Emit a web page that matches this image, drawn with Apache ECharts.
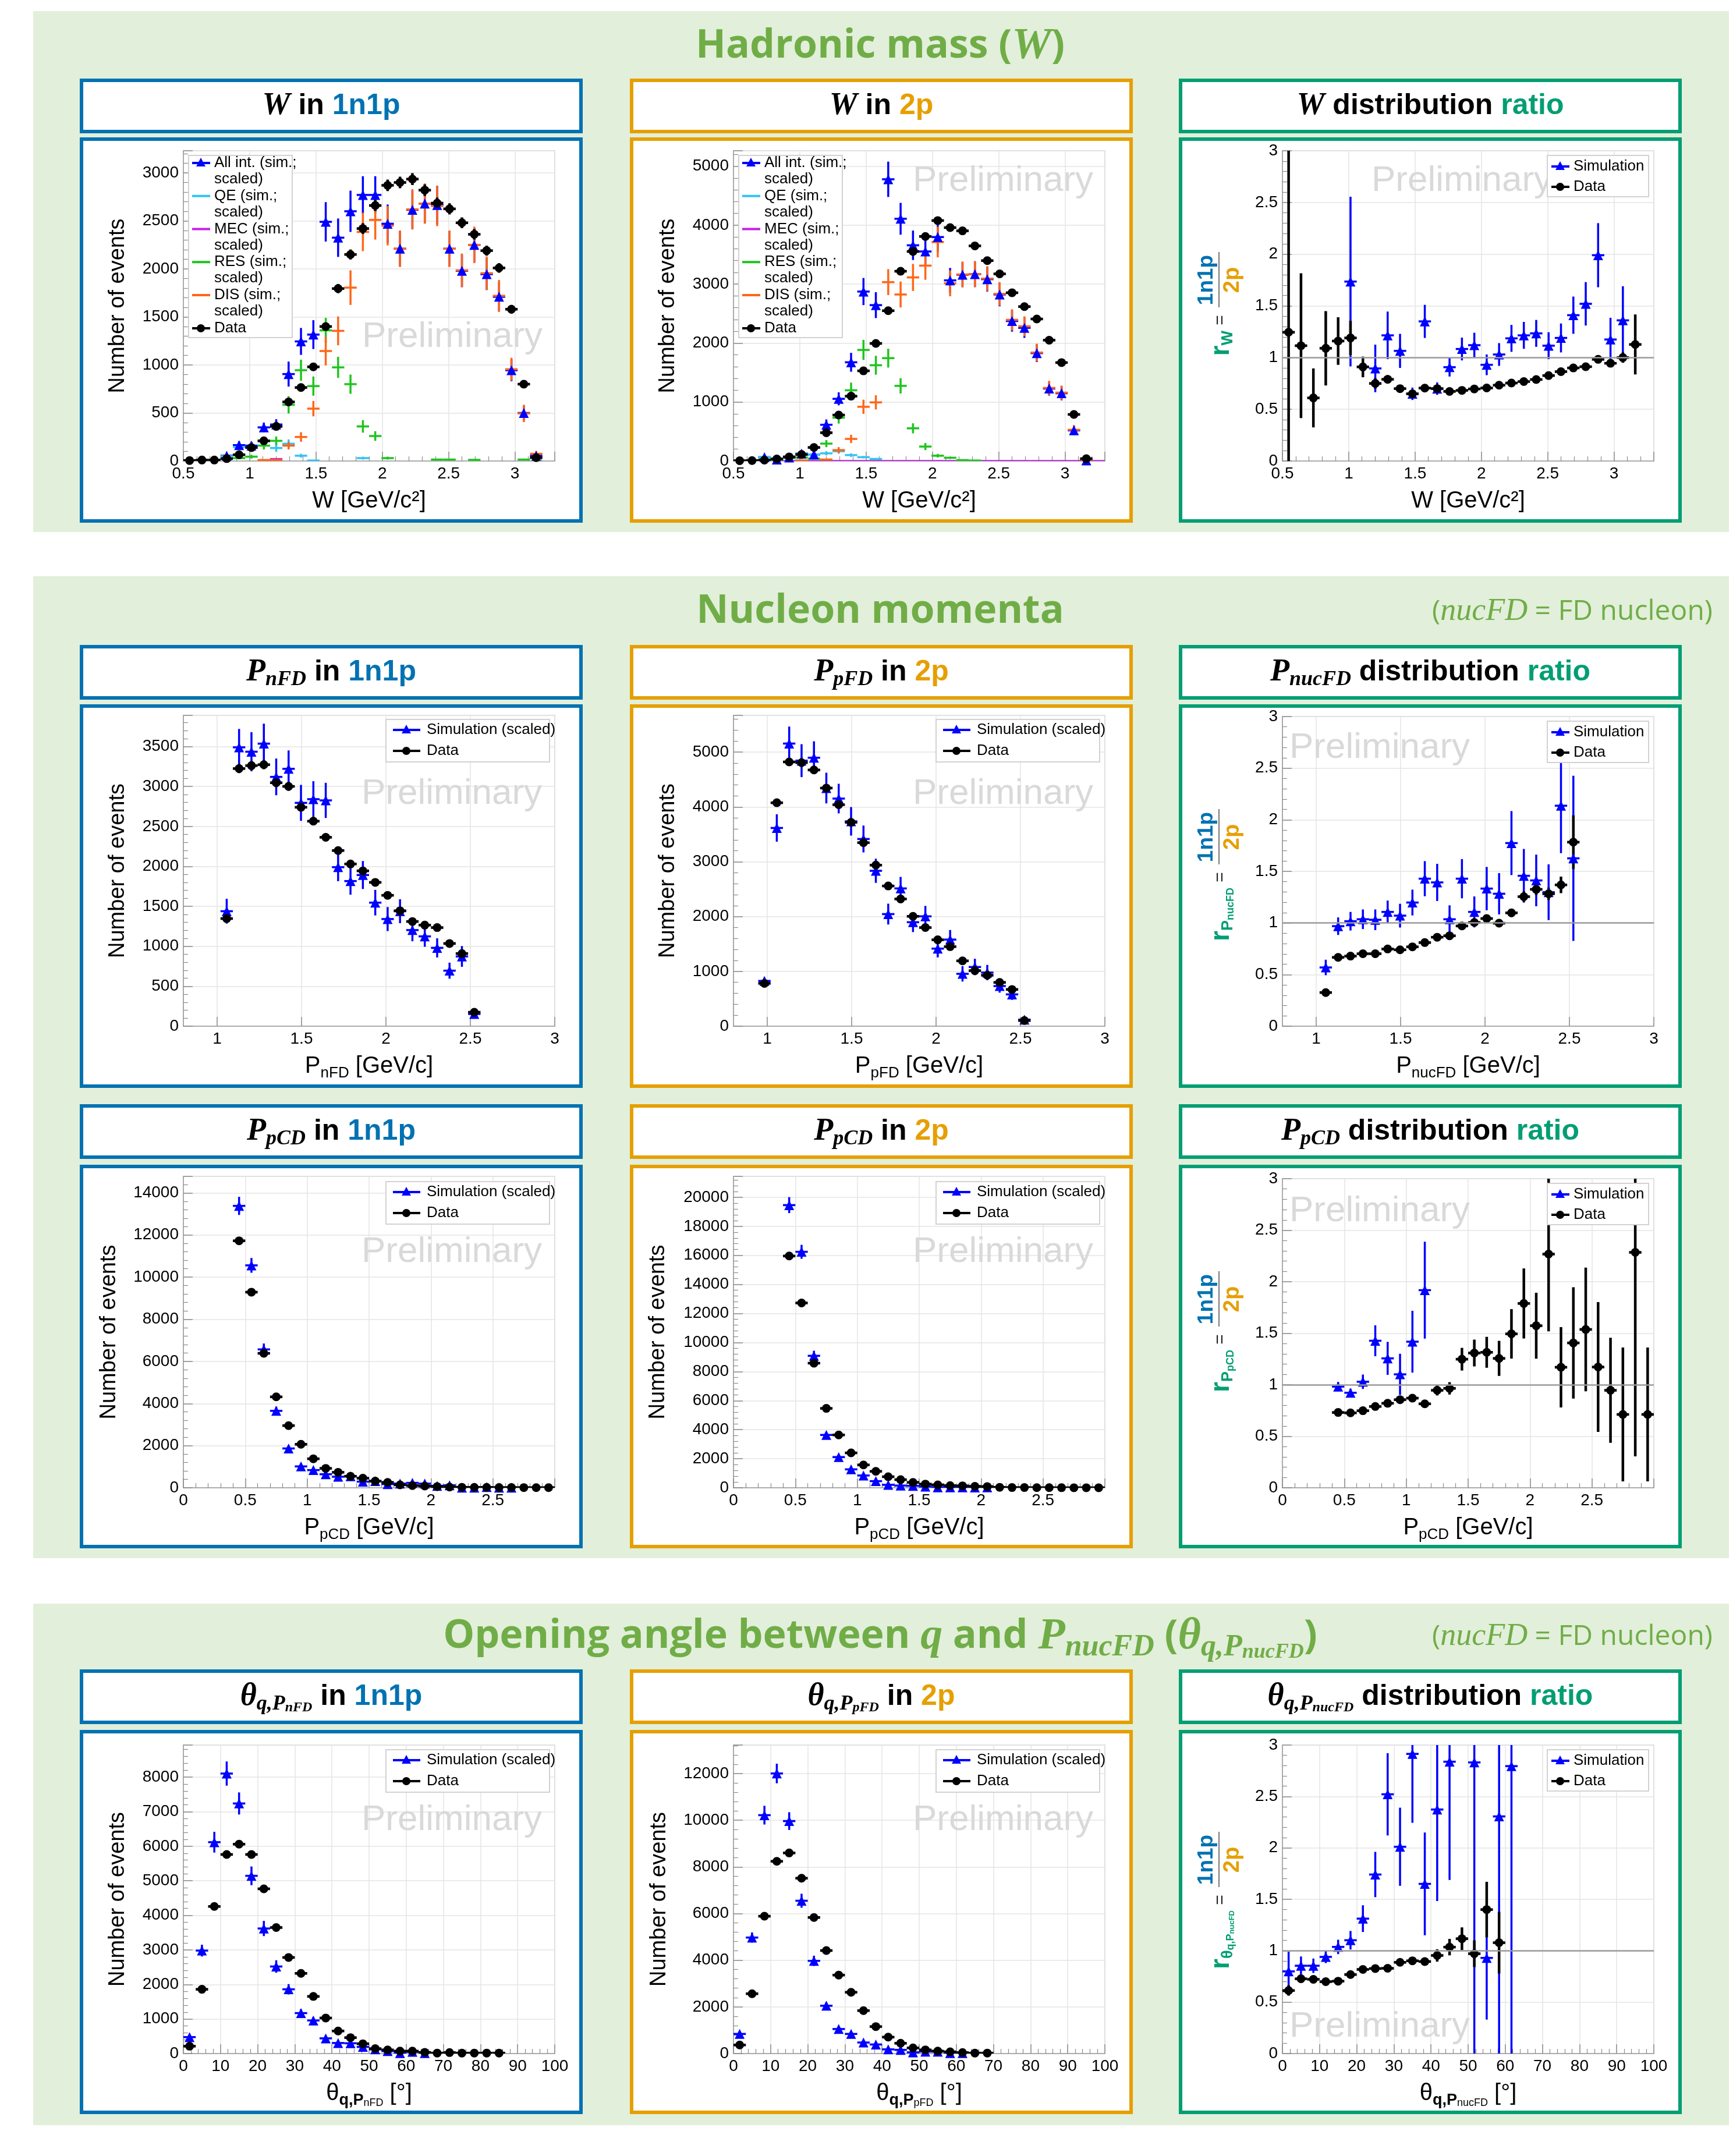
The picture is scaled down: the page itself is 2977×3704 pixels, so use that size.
<!DOCTYPE html>
<html><head><meta charset="utf-8">
<script src="https://cdn.jsdelivr.net/npm/echarts@6/dist/echarts.min.js"></script>
<style>html,body{margin:0;padding:0;background:#fff}#c{width:2977px;height:3704px}</style>
</head><body><div id="c"></div>
<script>
const _ = null;
// ---------- binning (axis categories) ----------
function makeBins(lo, hi, n){ const w=(hi-lo)/n, c=[]; for(let i=0;i<n;i++) c.push(lo+(i+0.5)*w); return {w, c}; }
const W_BINS = makeBins(0.5, 3.3, 30);
const PFD_BINS = makeBins(0.8, 3.0, 30);
const PCD_BINS = makeBins(0.0, 3.0, 30);
const TH_BINS = makeBins(0, 100, 30);

// ---------- W in 1n1p ----------
const W_1n1p_sim     = [_,_,_,55,165,160,350,380,905,1245,1316,2490,2325,2600,2770,2770,2470,2210,2615,2680,2665,2210,1980,2250,1945,1710,945,500,55,_];
const W_1n1p_sim_err = [_,_,_,20,40,40,50,55,130,140,150,205,200,215,195,195,200,185,200,200,200,185,170,180,165,155,115,80,25,_];
const W_1n1p_QE      = [_,_,_,50,145,140,205,135,180,55,5,_,_,_,30,_,_,_,_,_,_,_,_,_,_,_,_,_,_,_];
const W_1n1p_QE_err  = [_,_,_,20,40,40,45,40,45,20,5,_,_,_,15,_,_,_,_,_,_,_,_,_,_,_,_,_,_,_];
const W_1n1p_MEC     = [_,_,_,_,_,_,5,20,_,_,_,_,_,_,_,_,_,_,_,_,_,_,_,_,_,_,_,_,_,_];
const W_1n1p_MEC_err = [_,_,_,_,_,_,4,10,_,_,_,_,_,_,_,_,_,_,_,_,_,_,_,_,_,_,_,_,_,_];
const W_1n1p_RES     = [_,_,_,25,30,45,160,210,585,945,780,1360,975,800,360,260,30,_,_,_,15,15,_,12,_,_,_,15,_,_];
const W_1n1p_RES_err = [_,_,_,10,12,20,40,45,90,110,100,130,110,100,65,50,15,_,_,_,8,8,_,8,_,_,_,8,_,_];
const W_1n1p_DIS     = [_,_,_,_,_,_,10,10,160,250,545,1145,1355,1805,2385,2510,2450,2210,2620,2680,2655,2210,1985,2250,1955,1720,955,495,75,_];
const W_1n1p_DIS_err = [_,_,_,_,_,_,5,5,40,50,80,150,150,180,200,205,205,190,210,210,210,190,175,190,175,165,120,90,30,_];
const W_1n1p_data     = [5,10,10,25,65,140,210,360,615,765,980,1400,1795,2150,2420,2660,2870,2900,2935,2820,2685,2625,2480,2360,2190,2010,1580,800,35,_];
const W_1n1p_data_err = [3,4,4,6,10,14,18,22,28,32,36,42,48,52,56,58,60,60,62,60,58,58,56,55,52,50,45,32,8,_];

// ---------- W in 2p ----------
const W_2p_sim     = [_,_,65,25,60,125,110,615,1055,1675,2875,2645,4780,4110,3660,3555,3800,3065,3160,3170,3085,2825,2375,2260,1830,1230,1150,520,10,_];
const W_2p_sim_err = [_,_,20,15,20,30,30,90,110,160,230,220,300,270,250,240,250,210,210,220,210,200,180,170,150,120,120,80,10,_];
const W_2p_QE      = [_,_,65,40,65,125,110,130,165,100,65,35,_,_,_,_,_,_,_,_,_,_,_,_,_,_,_,_,_,_];
const W_2p_QE_err  = [_,_,20,15,20,30,30,35,40,30,20,15,_,_,_,_,_,_,_,_,_,_,_,_,_,_,_,_,_,_];
const W_2p_MEC     = [0,0,0,0,0,0,0,0,0,0,0,0,0,0,0,0,0,0,0,0,0,0,0,0,0,0,0,0,0,0];
const W_2p_MEC_err = [0,0,0,0,0,0,0,0,0,0,0,0,0,0,0,0,0,0,0,0,0,0,0,0,0,0,0,0,0,0];
const W_2p_RES     = [_,_,25,20,50,60,40,295,735,1200,1885,1625,1745,1275,555,245,90,55,15,8,_,_,_,_,_,_,_,_,_,_];
const W_2p_RES_err = [_,_,10,10,15,20,15,60,100,130,170,160,160,130,85,60,30,20,10,5,_,_,_,_,_,_,_,_,_,_];
const W_2p_DIS     = [_,_,_,_,_,10,_,25,185,375,920,995,3035,2825,3115,3315,3715,3015,3165,3170,3095,2835,2395,2285,1840,1240,1160,530,25,_];
const W_2p_DIS_err = [_,_,_,_,_,5,_,10,50,70,120,120,220,220,230,240,260,220,220,220,210,200,180,170,150,120,120,80,10,_];
const W_2p_data     = [5,8,15,35,70,110,230,480,780,1100,1530,1995,2550,3220,3555,3810,4080,3960,3905,3650,3400,3175,2855,2620,2410,2050,1670,790,40,_];
const W_2p_data_err = [3,3,4,6,9,11,16,23,29,35,40,45,52,58,62,64,66,65,64,62,60,58,55,52,50,46,42,30,7,_];

// ---------- W ratio ----------
const W_ratio_sim      = [_,_,_,_,_,1.735,_,0.895,1.215,1.065,0.65,1.35,0.70,0.907,1.083,1.12,0.93,1.03,1.186,1.215,1.234,1.115,1.19,1.41,1.52,1.99,1.175,1.36,_,_];
const W_ratio_sim_err  = [_,_,_,_,_,0.82,_,0.23,0.23,0.165,0.06,0.16,0.06,0.09,0.11,0.12,0.1,0.11,0.13,0.13,0.13,0.13,0.14,0.18,0.21,0.31,0.21,0.33,_,_];
const W_ratio_data     = [1.245,1.115,0.61,1.09,1.16,1.19,0.91,0.75,0.79,0.70,0.65,0.705,0.70,0.673,0.683,0.697,0.706,0.733,0.754,0.768,0.788,0.826,0.864,0.90,0.912,0.983,0.945,1.0,1.127,_];
const W_ratio_data_err = [1.9,0.7,0.285,0.36,0.23,0.165,0.1,0.05,0.04,0.03,0.03,0.02,0.02,0.02,0.02,0.02,0.02,0.02,0.02,0.02,0.02,0.02,0.02,0.02,0.02,0.02,0.025,0.05,0.29,_];

// ---------- P_nFD in 1n1p ----------
const PnFD_1n1p_sim      = [_,_,_,1439,3490,3435,3536,3120,3221,2795,2841,2826,1990,1816,1892,1546,1341,1439,1203,1124,980,695,873,153,_,_,_,_,_,_];
const PnFD_1n1p_sim_err  = [_,_,_,155,230,245,250,230,230,225,225,220,175,170,175,160,150,150,140,130,120,100,130,30,_,_,_,_,_,_];
const PnFD_1n1p_data     = [_,_,_,1347,3224,3261,3273,3047,3001,2740,2566,2364,2198,2030,1944,1800,1638,1445,1310,1265,1234,1035,909,175,_,_,_,_,_,_];
const PnFD_1n1p_data_err = [_,_,_,37,57,57,57,55,55,52,51,49,47,45,44,42,40,38,36,36,35,32,30,13,_,_,_,_,_,_];

// ---------- P_pFD in 2p ----------
const PpFD_2p_sim      = [_,_,826,3616,5156,4844,4897,4344,4152,3737,3415,2835,2045,2513,1897,2004,1415,1580,955,1080,978,732,580,120,_,_,_,_,_,_];
const PpFD_2p_sim_err  = [_,_,60,250,310,300,300,280,270,260,245,220,190,210,180,190,160,175,140,150,140,120,100,30,_,_,_,_,_,_];
const PpFD_2p_data     = [_,_,781,4076,4821,4808,4674,4344,4040,3719,3348,2938,2558,2321,2004,1799,1576,1451,1192,1013,929,799,670,103,_,_,_,_,_,_];
const PpFD_2p_data_err = [_,_,28,64,69,69,68,66,64,61,58,54,51,48,45,42,40,38,35,32,30,28,26,10,_,_,_,_,_,_];

// ---------- P_nucFD ratio ----------
const PnucFD_ratio_sim      = [_,_,_,0.569,0.969,1.017,1.036,1.031,1.107,1.071,1.198,1.429,1.393,1.036,1.429,1.107,1.333,1.283,1.774,1.457,1.412,1.298,2.136,1.626,_,_,_,_,_,_];
const PnucFD_ratio_sim_err  = [_,_,_,0.075,0.085,0.09,0.095,0.1,0.11,0.115,0.125,0.17,0.18,0.135,0.19,0.15,0.21,0.2,0.31,0.26,0.25,0.27,0.46,0.8,_,_,_,_,_,_];
const PnucFD_ratio_data     = [_,_,_,0.326,0.667,0.679,0.702,0.702,0.748,0.740,0.769,0.810,0.862,0.876,0.971,1.005,1.043,0.998,1.098,1.255,1.326,1.283,1.369,1.783,_,_,_,_,_,_];
const PnucFD_ratio_data_err = [_,_,_,0.02,0.02,0.02,0.02,0.02,0.022,0.022,0.024,0.025,0.027,0.028,0.03,0.032,0.035,0.035,0.04,0.05,0.055,0.06,0.08,0.26,_,_,_,_,_,_];

// ---------- P_pCD in 1n1p ----------
const PpCD_1n1p_sim      = [_,_,_,_,13384,10560,6570,3652,1867,1015,840,642,525,548,292,315,175,198,233,198,93,117,5,5,35,5,5,_,_,_];
const PpCD_1n1p_sim_err  = [_,_,_,_,430,350,280,200,100,80,60,60,50,50,40,40,30,30,30,30,20,20,5,5,15,5,5,_,_,_];
const PpCD_1n1p_data     = [_,_,_,_,11727,9288,6383,4317,2952,2065,1377,922,735,548,455,315,257,140,105,82,58,35,23,20,20,12,12,10,8,8];
const PpCD_1n1p_data_err = [_,_,_,_,110,95,80,65,55,45,37,30,27,23,21,18,16,12,10,9,8,6,5,4,4,3,3,3,3,3];

// ---------- P_pCD in 2p ----------
const PpCD_2p_sim      = [_,_,_,_,19459,16244,9086,3638,2115,1269,846,457,203,152,135,85,34,34,34,17,34,_,_,_,_,_,_,_,_,_];
const PpCD_2p_sim_err  = [_,_,_,_,550,480,350,150,100,80,60,50,35,30,30,20,15,15,15,10,15,_,_,_,_,_,_,_,_,_];
const PpCD_2p_data     = [_,_,_,_,15956,12724,8579,5465,3638,2403,1574,1134,761,558,372,254,203,152,135,102,85,34,17,17,10,8,6,5,5,4];
const PpCD_2p_data_err = [_,_,_,_,126,113,93,74,60,49,40,34,28,24,19,16,14,12,12,10,9,6,4,4,3,3,2,2,2,2];

// ---------- P_pCD ratio ----------
const PpCD_ratio_sim      = [_,_,_,_,0.982,0.922,1.029,1.427,1.256,1.101,1.418,1.918,_,_,_,_,_,_,_,_,_,_,_,_,_,_,_,_,_,_];
const PpCD_ratio_sim_err  = [_,_,_,_,0.045,0.04,0.07,0.15,0.16,0.2,0.3,0.47,_,_,_,_,_,_,_,_,_,_,_,_,_,_,_,_,_,_];
const PpCD_ratio_data     = [_,_,_,_,0.731,0.727,0.748,0.789,0.820,0.855,0.870,0.815,0.946,0.965,1.248,1.308,1.315,1.256,1.494,1.789,1.573,2.268,1.170,1.406,1.537,1.172,0.946,0.712,2.285,0.712];
const PpCD_ratio_data_err = [_,_,_,_,0.02,0.02,0.025,0.025,0.025,0.03,0.03,0.035,0.05,0.06,0.11,0.13,0.15,0.17,0.24,0.34,0.32,0.75,0.39,0.54,0.6,0.63,0.51,0.65,1.98,0.65];

// ---------- theta_q,PnFD in 1n1p ----------
const TnFD_1n1p_sim      = [476,2981,6118,8105,7239,5145,3620,2520,1860,1171,958,440,305,298,192,121,71,14,50,14,_,_,_,_,_,_,_,_,_,_];
const TnFD_1n1p_sim_err  = [40,170,300,350,320,270,220,180,150,110,100,50,40,40,30,25,20,8,15,8,_,_,_,_,_,_,_,_,_,_];
const TnFD_1n1p_data     = [213,1860,4258,5763,6061,5763,4769,3648,2782,2321,1654,1029,653,461,284,142,106,71,71,35,14,28,14,14,14,14,_,_,_,_];
const TnFD_1n1p_data_err = [15,43,65,76,78,76,69,60,53,48,41,32,26,21,17,12,10,8,8,6,4,5,4,4,4,4,_,_,_,_];

// ---------- theta_q,PpFD in 2p ----------
const TpFD_2p_sim      = [841,4971,10216,12002,9962,6548,3973,2049,1051,841,473,389,179,158,53,84,84,21,21,_,_,_,_,_,_,_,_,_,_,_];
const TpFD_2p_sim_err  = [70,220,400,420,380,300,220,150,100,80,60,50,40,35,20,20,20,10,10,_,_,_,_,_,_,_,_,_,_,_];
const TpFD_2p_data     = [368,2564,5885,8239,8597,7514,5832,4414,3363,2627,1839,1156,704,441,242,158,105,74,42,21,21,_,_,_,_,_,_,_,_,_];
const TpFD_2p_data_err = [19,51,77,91,93,87,76,66,58,51,43,34,27,21,16,13,10,9,6,5,5,_,_,_,_,_,_,_,_,_];

// ---------- theta ratio ----------
const TnucFD_ratio_sim      = [0.799,0.854,0.854,0.940,1.037,1.102,1.312,1.741,2.521,2.011,2.914,1.650,2.373,2.838,_,2.831,0.930,2.306,2.795,_,_,_,_,_,_,_,_,_,_,_];
const TnucFD_ratio_sim_err  = [0.19,0.09,0.07,0.06,0.07,0.09,0.13,0.22,0.4,0.38,0.67,0.5,0.89,1.15,_,2.9,0.6,2.5,2.9,_,_,_,_,_,_,_,_,_,_,_];
const TnucFD_ratio_data     = [0.613,0.727,0.722,0.699,0.704,0.768,0.818,0.827,0.829,0.887,0.902,0.895,0.954,1.035,1.117,0.971,1.400,1.078,_,_,_,_,_,_,_,_,_,_,_,_];
const TnucFD_ratio_data_err = [0.05,0.02,0.02,0.02,0.02,0.02,0.02,0.02,0.025,0.03,0.03,0.04,0.06,0.08,0.11,0.13,0.27,0.3,_,_,_,_,_,_,_,_,_,_,_,_];

// ---------- layout & styles ----------
const C_BLUE='#0072B2', C_ORANGE='#E69F00', C_GREEN='#009E73', C_SEC='#70AD47', C_SECBG='#E2EFDA';
const BORDER=[C_BLUE,C_ORANGE,C_GREEN];
const COLS=[137,1082,2025], ROWS=[236,1210,2001,2972], PH=[662,659,659,660], HEAD_Y=[135,1108,1897,2868], PW=864;
const AXF='"Liberation Sans Narrow","Liberation Sans",Arial,sans-serif';
const TF='"Liberation Sans",Arial,sans-serif';
const OS='"Open Sans","Liberation Sans",Arial,sans-serif';
const SERIF='"Liberation Serif","DejaVu Serif",serif';
const STY={
  sim:{color:'#0000ff',lw:3.5,marker:'triangle',size:17},
  qe:{color:'#33c3f5',lw:3.5}, mec:{color:'#c41fe8',lw:3.5}, res:{color:'#1fc41f',lw:3.5}, dis:{color:'#ff6619',lw:3.5},
  data:{color:'#000000',lw:4.5,marker:'circle',size:15}
};
const XNAMES={
  w:'{n|W [GeV/c²]}',
  pnfd:'{n|P}{s|nFD}{n| [GeV/c]}', ppfd:'{n|P}{s|pFD}{n| [GeV/c]}', pnuc:'{n|P}{s|nucFD}{n| [GeV/c]}', pcd:'{n|P}{s|pCD}{n| [GeV/c]}',
  tn:'{n|θ}{sb|q,P}{ss|nFD}{n| [°]}', tp:'{n|θ}{sb|q,P}{ss|pFD}{n| [°]}', tnuc:'{n|θ}{sb|q,P}{ss|nucFD}{n| [°]}'
};
const XN_RICH={
  n:{fontFamily:TF,fontSize:40,color:'#000',lineHeight:50},
  s:{fontFamily:TF,fontSize:26,color:'#000',lineHeight:26,verticalAlign:'bottom'},
  sb:{fontFamily:TF,fontSize:27,fontWeight:'bold',color:'#000',lineHeight:27,verticalAlign:'bottom'},
  ss:{fontFamily:TF,fontSize:18,color:'#000',lineHeight:18,verticalAlign:'bottom'}
};

const SPEC=[
 {r:0,c:0,bins:W_BINS,xr:[0.5,3.3,0.5],yr:[3230,500],top:23,bot:556,xn:'w',yg:93,leg:'W',legTop:31,pre:[777,579],
  ser:[[W_1n1p_sim,W_1n1p_sim_err,'sim'],[W_1n1p_QE,W_1n1p_QE_err,'qe'],[W_1n1p_MEC,W_1n1p_MEC_err,'mec'],[W_1n1p_RES,W_1n1p_RES_err,'res'],[W_1n1p_DIS,W_1n1p_DIS_err,'dis'],[W_1n1p_data,W_1n1p_data_err,'data']]},
 {r:0,c:1,bins:W_BINS,xr:[0.5,3.3,0.5],yr:[5264,1000],top:23,bot:556,xn:'w',yg:93,leg:'W',legTop:31,pre:[1723,311],
  ser:[[W_2p_sim,W_2p_sim_err,'sim'],[W_2p_QE,W_2p_QE_err,'qe'],[W_2p_MEC,W_2p_MEC_err,'mec'],[W_2p_RES,W_2p_RES_err,'res'],[W_2p_DIS,W_2p_DIS_err,'dis'],[W_2p_data,W_2p_data_err,'data']]},
 {r:0,c:2,bins:W_BINS,xr:[0.5,3.3,0.5],yr:[3,0.5],top:23,bot:556,xn:'w',ratio:'{r|r}{s|W}',rt:[69,292],leg:'R',legTop:31,pre:[2511,311],
  ser:[[W_ratio_sim,W_ratio_sim_err,'sim'],[W_ratio_data,W_ratio_data_err,'data']]},
 {r:1,c:0,bins:PFD_BINS,xr:[0.8,3.0,0.5],custom:[1,1.5,2,2.5,3],yr:[3890,500],top:19,bot:553,xn:'pnfd',yg:93,leg:'C',legTop:26,pre:[776,1364],
  ser:[[PnFD_1n1p_sim,PnFD_1n1p_sim_err,'sim'],[PnFD_1n1p_data,PnFD_1n1p_data_err,'data']]},
 {r:1,c:1,bins:PFD_BINS,xr:[0.8,3.0,0.5],custom:[1,1.5,2,2.5,3],yr:[5670,1000],top:19,bot:553,xn:'ppfd',yg:93,leg:'C',legTop:26,pre:[1723,1364],
  ser:[[PpFD_2p_sim,PpFD_2p_sim_err,'sim'],[PpFD_2p_data,PpFD_2p_data_err,'data']]},
 {r:1,c:2,bins:PFD_BINS,xr:[0.8,3.0,0.5],custom:[1,1.5,2,2.5,3],yr:[3,0.5],top:21,bot:553,xn:'pnuc',ratio:'{r|r}{s|P}{ss|nucFD}',rt:[69,275],leg:'R',legTop:29,pre:[2370,1285],
  ser:[[PnucFD_ratio_sim,PnucFD_ratio_sim_err,'sim'],[PnucFD_ratio_data,PnucFD_ratio_data_err,'data']]},
 {r:2,c:0,bins:PCD_BINS,xr:[0,3,0.5],xhide:[3],yr:[14785,2000],top:20,bot:555,xn:'pcd',yg:108,leg:'C',legTop:29,pre:[776,2151],
  ser:[[PpCD_1n1p_sim,PpCD_1n1p_sim_err,'sim'],[PpCD_1n1p_data,PpCD_1n1p_data_err,'data']]},
 {r:2,c:1,bins:PCD_BINS,xr:[0,3,0.5],xhide:[3],yr:[21438,2000],top:20,bot:555,xn:'pcd',yg:110,leg:'C',legTop:29,pre:[1723,2151],
  ser:[[PpCD_2p_sim,PpCD_2p_sim_err,'sim'],[PpCD_2p_data,PpCD_2p_data_err,'data']]},
 {r:2,c:2,bins:PCD_BINS,xr:[0,3,0.5],xhide:[3],yr:[3,0.5],top:24,bot:555,xn:'pcd',ratio:'{r|r}{s|P}{ss|pCD}',rt:[69,278],leg:'R',legTop:32,pre:[2370,2081],
  ser:[[PpCD_ratio_sim,PpCD_ratio_sim_err,'sim'],[PpCD_ratio_data,PpCD_ratio_data_err,'data']]},
 {r:3,c:0,bins:TH_BINS,xr:[0,100,10],yr:[8930,1000],top:26,bot:556,xn:'tn',yg:93,leg:'C',legTop:34,pre:[776,3127],
  ser:[[TnFD_1n1p_sim,TnFD_1n1p_sim_err,'sim'],[TnFD_1n1p_data,TnFD_1n1p_data_err,'data']]},
 {r:3,c:1,bins:TH_BINS,xr:[0,100,10],yr:[13220,2000],top:26,bot:556,xn:'tp',yg:108,leg:'C',legTop:34,pre:[1723,3127],
  ser:[[TpFD_2p_sim,TpFD_2p_sim_err,'sim'],[TpFD_2p_data,TpFD_2p_data_err,'data']]},
 {r:3,c:2,bins:TH_BINS,xr:[0,100,10],yr:[3,0.5],top:26,bot:556,xn:'tnuc',ratio:'{r|r}{s|θ}{ss|q,P}{sss|nucFD}',rt:[69,270],leg:'R',legTop:34,pre:[2370,3482],
  ser:[[TnucFD_ratio_sim,TnucFD_ratio_sim_err,'sim'],[TnucFD_ratio_data,TnucFD_ratio_data_err,'data']]}
];

function isMajor(v,step){const q=v/step;return Math.abs(q-Math.round(q))<1e-6;}
function fmtNum(v){return String(parseFloat(v.toFixed(4)));}

const grids=[],xAxes=[],yAxes=[],series=[],G=[];

function crossSeries(gi,bins,vals,errs,st){
  const data=[];
  for(let i=0;i<vals.length;i++){ if(vals[i]!==null) data.push([bins.c[i],vals[i],errs[i]==null?0:errs[i]]); }
  const hw=bins.w/2;
  return {type:'custom',xAxisIndex:gi,yAxisIndex:gi,clip:true,silent:true,data,
    renderItem:(params,api)=>{
      const x=api.value(0),y=api.value(1),e=api.value(2);
      const a=api.coord([x-hw,y]),b=api.coord([x+hw,y]);
      const ch=[{type:'line',shape:{x1:a[0],y1:a[1],x2:b[0],y2:b[1]},style:{stroke:st.color,lineWidth:st.lw}}];
      if(e>0){const t=api.coord([x,y+e]),u=api.coord([x,y-e]);
        ch.push({type:'line',shape:{x1:t[0],y1:t[1],x2:u[0],y2:u[1]},style:{stroke:st.color,lineWidth:st.lw}});}
      return {type:'group',children:ch};
    }};
}

SPEC.forEach((s,gi)=>{
  const px=COLS[s.c],py=ROWS[s.r];
  grids.push({left:px+178,top:py+s.top,width:638,height:s.bot-s.top,show:true,borderColor:'#c8c8c8',borderWidth:1.5,backgroundColor:'transparent',containLabel:false,outerBoundsMode:'none'});
  const xa={gridIndex:gi,type:'value',min:s.xr[0],max:s.xr[1],
    axisLine:{show:true,onZero:false,lineStyle:{color:'#9a9a9a',width:1.5}},
    axisTick:{show:true,inside:true,length:16,lineStyle:{color:'#8c8c8c',width:1.5}},
    axisLabel:{show:true,margin:8,fontSize:28,fontFamily:AXF,color:'#000',
      formatter:v=>(isMajor(v,s.xr[2])&&!(s.xhide||[]).some(h=>Math.abs(h-v)<1e-6))?fmtNum(v):''},
    splitLine:{show:true,lineStyle:{color:'#e4e4e4',width:1.5}},
    name:XNAMES[s.xn],nameLocation:'middle',nameGap:44,nameTextStyle:{fontFamily:TF,fontSize:40,color:'#000',rich:XN_RICH}};
  if(s.custom){xa.axisTick.customValues=s.custom;xa.axisLabel.customValues=s.custom;xa.minorTick={show:false};}
  else{xa.interval=s.xr[2];xa.minorTick={show:true,splitNumber:5,length:8,lineStyle:{color:'#8c8c8c',width:1.2}};}
  xAxes.push(xa);
  const ya={gridIndex:gi,type:'value',min:0,max:s.yr[0],interval:s.yr[1],
    axisLine:{show:true,onZero:false,lineStyle:{color:'#9a9a9a',width:1.5}},
    axisTick:{show:true,inside:true,length:16,lineStyle:{color:'#8c8c8c',width:1.5}},
    minorTick:{show:true,splitNumber:5,length:8,lineStyle:{color:'#8c8c8c',width:1.2}},
    axisLabel:{show:true,margin:8,fontSize:28,fontFamily:AXF,color:'#000',formatter:v=>isMajor(v,s.yr[1])?fmtNum(v):''},
    splitLine:{show:true,lineStyle:{color:'#e4e4e4',width:1.5}}};
  if(!s.ratio){Object.assign(ya,{name:'Number of events',nameLocation:'middle',nameRotate:90,nameGap:s.yg,nameTextStyle:{fontFamily:TF,fontSize:38,color:'#000'}});}
  yAxes.push(ya);
  if(s.ratio){
    series.push({type:'line',xAxisIndex:gi,yAxisIndex:gi,data:[],silent:true,
      markLine:{silent:true,symbol:['none','none'],label:{show:false},lineStyle:{color:'#9b9b9b',width:2.5,type:'solid'},data:[{yAxis:1}]}});
  }
  s.ser.forEach(([vals,errs,kind])=>{
    const st=STY[kind];
    series.push(crossSeries(gi,s.bins,vals,errs,st));
    if(st.marker){
      const pts=[];
      for(let i=0;i<vals.length;i++){ if(vals[i]!==null) pts.push([s.bins.c[i],vals[i]]); }
      series.push({type:'scatter',xAxisIndex:gi,yAxisIndex:gi,symbol:st.marker,symbolSize:st.size,itemStyle:{color:st.color,opacity:1},silent:true,clip:true,data:pts});
    }
  });
});

// ---------- graphic: sections ----------
function T(x,y,text,style,z){return {type:'text',x,y,z:z||100,silent:true,style:Object.assign({text,align:'center',verticalAlign:'middle',textAlign:'center',textVerticalAlign:'middle'},style)};}
[[57,19,2913,895],[57,990,2913,1687],[57,2755,2913,896]].forEach(r=>G.push({type:'rect',z:-100,silent:true,shape:{x:r[0],y:r[1],width:r[2],height:r[3]},style:{fill:C_SECBG}}));

const SEC_RICH={
  b:{fontFamily:OS,fontWeight:'bold',fontSize:68,fill:C_SEC,color:C_SEC,lineHeight:90},
  i:{fontFamily:SERIF,fontStyle:'italic',fontWeight:'bold',fontSize:76,fill:C_SEC,color:C_SEC,lineHeight:90},
  is:{fontFamily:SERIF,fontStyle:'italic',fontWeight:'bold',fontSize:52,fill:C_SEC,color:C_SEC,lineHeight:52,verticalAlign:'bottom'},
  iss:{fontFamily:SERIF,fontStyle:'italic',fontWeight:'bold',fontSize:36,fill:C_SEC,color:C_SEC,lineHeight:36,verticalAlign:'bottom'}
};
const SUB_RICH={
  p:{fontFamily:OS,fontSize:48,fill:C_SEC,color:C_SEC,lineHeight:60},
  i:{fontFamily:SERIF,fontStyle:'italic',fontSize:54,fill:C_SEC,color:C_SEC,lineHeight:60}
};
G.push(T(1512,80,'{b|Hadronic mass (}{i|W}{b|)}',{rich:SEC_RICH}));
G.push(T(1512,1051,'{b|Nucleon momenta}',{rich:SEC_RICH}));
G.push(T(1512,2812,'{b|Opening angle between }{i|q}{b| and }{i|P}{is|nucFD}{b| (}{i|θ}{is|q,P}{iss|nucFD}{b|)}',{rich:SEC_RICH}));
G.push(T(2942,1051,'{p|(}{i|nucFD}{p| = FD nucleon)}',{rich:SUB_RICH,align:'right',textAlign:'right'}));
G.push(T(2942,2812,'{p|(}{i|nucFD}{p| = FD nucleon)}',{rich:SUB_RICH,align:'right',textAlign:'right'}));

// ---------- graphic: panel frames & headers ----------
const HR={
  b:{fontFamily:TF,fontWeight:'bold',fontSize:50,fill:'#000',color:'#000',lineHeight:62},
  c1:{fontFamily:TF,fontWeight:'bold',fontSize:50,fill:C_BLUE,color:C_BLUE,lineHeight:62},
  c2:{fontFamily:TF,fontWeight:'bold',fontSize:50,fill:C_ORANGE,color:C_ORANGE,lineHeight:62},
  c3:{fontFamily:TF,fontWeight:'bold',fontSize:50,fill:C_GREEN,color:C_GREEN,lineHeight:62},
  wi:{fontFamily:SERIF,fontStyle:'italic',fontWeight:'bold',fontSize:54,fill:'#000',color:'#000',lineHeight:62},
  ws:{fontFamily:SERIF,fontStyle:'italic',fontWeight:'bold',fontSize:36,fill:'#000',color:'#000',lineHeight:36,verticalAlign:'bottom'},
  wss:{fontFamily:SERIF,fontStyle:'italic',fontWeight:'bold',fontSize:24,fill:'#000',color:'#000',lineHeight:24,verticalAlign:'bottom'}
};
const HEADERS=[
 ['{wi|W}{b| in }{c1|1n1p}','{wi|W}{b| in }{c2|2p}','{wi|W}{b| distribution }{c3|ratio}'],
 ['{wi|P}{ws|nFD}{b| in }{c1|1n1p}','{wi|P}{ws|pFD}{b| in }{c2|2p}','{wi|P}{ws|nucFD}{b| distribution }{c3|ratio}'],
 ['{wi|P}{ws|pCD}{b| in }{c1|1n1p}','{wi|P}{ws|pCD}{b| in }{c2|2p}','{wi|P}{ws|pCD}{b| distribution }{c3|ratio}'],
 ['{wi|θ}{ws|q,P}{wss|nFD}{b| in }{c1|1n1p}','{wi|θ}{ws|q,P}{wss|pFD}{b| in }{c2|2p}','{wi|θ}{ws|q,P}{wss|nucFD}{b| distribution }{c3|ratio}']
];
for(let r=0;r<4;r++)for(let c=0;c<3;c++){
  G.push({type:'rect',z:-50,silent:true,shape:{x:COLS[c]+3,y:HEAD_Y[r]+3,width:PW-6,height:88},style:{fill:'#fff',stroke:BORDER[c],lineWidth:6}});
  G.push({type:'rect',z:-50,silent:true,shape:{x:COLS[c]+3,y:ROWS[r]+3,width:PW-6,height:PH[r]-6},style:{fill:'#fff',stroke:BORDER[c],lineWidth:6}});
  G.push(T(COLS[c]+PW/2,HEAD_Y[r]+47,HEADERS[r][c],{rich:HR}));
}

// ---------- graphic: legends, watermark, ratio titles ----------
function tri(cx,cy,col){return {type:'polygon',z:52,silent:true,shape:{points:[[cx,cy-9],[cx+8,cy+6],[cx-8,cy+6]]},style:{fill:col}};}
function circ(cx,cy,col){return {type:'circle',z:52,silent:true,shape:{cx,cy,r:7},style:{fill:col}};}
function lline(x0,x1,y,col){return {type:'line',z:51,silent:true,shape:{x1:x0,y1:y,x2:x1,y2:y},style:{stroke:col,lineWidth:4}};}
function ltext(x,y,t){return {type:'text',x,y,z:52,silent:true,style:{text:t,font:'26px '+AXF,fill:'#000',align:'left',verticalAlign:'middle',textAlign:'left',textVerticalAlign:'middle'}};}

SPEC.forEach(s=>{
  const px=COLS[s.c],py=ROWS[s.r];
  G.push(T(s.pre[0],s.pre[1],'Preliminary',{font:'62px '+TF,fill:'#d9d9d9'},1));
  if(s.leg==='W'){
    const bx=px+187,by=py+s.legTop;
    G.push({type:'rect',z:50,silent:true,shape:{x:bx,y:by,width:178,height:313},style:{fill:'#fff',stroke:'#d2d2d2',lineWidth:2}});
    const ent=[['All int. (sim.;',STY.sim.color,'tri'],['QE (sim.;',STY.qe.color],['MEC (sim.;',STY.mec.color],['RES (sim.;',STY.res.color],['DIS (sim.;',STY.dis.color]];
    ent.forEach((e,k)=>{const y1=by+13+k*56.75,y2=y1+28;
      G.push(lline(bx+6,bx+37,y1,e[1])); if(e[2]) G.push(tri(bx+21,y1,e[1]));
      G.push(ltext(bx+44,y1,e[0])); G.push(ltext(bx+44,y2,'scaled)'));});
    const yd=by+297; G.push(lline(bx+6,bx+37,yd,'#000')); G.push(circ(bx+21,yd,'#000')); G.push(ltext(bx+44,yd,'Data'));
  } else if(s.leg==='C'){
    const bx=px+526,by=py+s.legTop;
    G.push({type:'rect',z:50,silent:true,shape:{x:bx,y:by,width:281,height:73},style:{fill:'#fff',stroke:'#d2d2d2',lineWidth:2}});
    G.push(lline(bx+12,bx+59,by+18,STY.sim.color)); G.push(tri(bx+35,by+18,STY.sim.color)); G.push(ltext(bx+70,by+18,'Simulation (scaled)'));
    G.push(lline(bx+12,bx+59,by+54,'#000')); G.push(circ(bx+35,by+54,'#000')); G.push(ltext(bx+70,by+54,'Data'));
  } else {
    const bx=px+633,by=py+s.legTop;
    G.push({type:'rect',z:50,silent:true,shape:{x:bx,y:by,width:174,height:71},style:{fill:'#fff',stroke:'#d2d2d2',lineWidth:2}});
    G.push(lline(bx+7,bx+38,by+19,STY.sim.color)); G.push(tri(bx+22,by+19,STY.sim.color)); G.push(ltext(bx+45,by+19,'Simulation'));
    G.push(lline(bx+7,bx+38,by+54,'#000')); G.push(circ(bx+22,by+54,'#000')); G.push(ltext(bx+45,by+54,'Data'));
  }
  if(s.ratio){
    const RR={
      r:{fontFamily:TF,fontWeight:'bold',fontSize:46,fill:C_GREEN,lineHeight:50},
      s:{fontFamily:TF,fontWeight:'bold',fontSize:27,fill:C_GREEN,lineHeight:27,verticalAlign:'bottom'},
      ss:{fontFamily:TF,fontWeight:'bold',fontSize:18,fill:C_GREEN,lineHeight:18,verticalAlign:'bottom'},
      sss:{fontFamily:TF,fontWeight:'bold',fontSize:13,fill:C_GREEN,lineHeight:13,verticalAlign:'bottom'}
    };
    G.push({type:'group',x:px+s.rt[0],y:py+s.rt[1],rotation:Math.PI/2,z:100,silent:true,children:[
      {type:'line',shape:{x1:0,y1:0,x2:95,y2:0},style:{stroke:'#777',lineWidth:2}},
      {type:'text',x:47,y:-21,style:{text:'1n1p',font:'bold 37px '+TF,fill:C_BLUE,align:'center',verticalAlign:'middle',textAlign:'center',textVerticalAlign:'middle'}},
      {type:'text',x:47,y:24,style:{text:'2p',font:'bold 38px '+TF,fill:C_ORANGE,align:'center',verticalAlign:'middle',textAlign:'center',textVerticalAlign:'middle'}},
      {type:'text',x:-22,y:3,style:{text:'=',font:'30px '+TF,fill:'#222',align:'center',verticalAlign:'middle',textAlign:'center',textVerticalAlign:'middle'}},
      {type:'text',x:-40,y:4,style:{text:s.ratio,rich:RR,align:'right',verticalAlign:'middle',textAlign:'right',textVerticalAlign:'middle'}}
    ]});
  }
});

const chart=echarts.init(document.getElementById('c'),null,{renderer:'canvas',width:2977,height:3704});
chart.setOption({animation:false,backgroundColor:'#ffffff',grid:grids,xAxis:xAxes,yAxis:yAxes,series,graphic:G});
</script>
</body></html>
